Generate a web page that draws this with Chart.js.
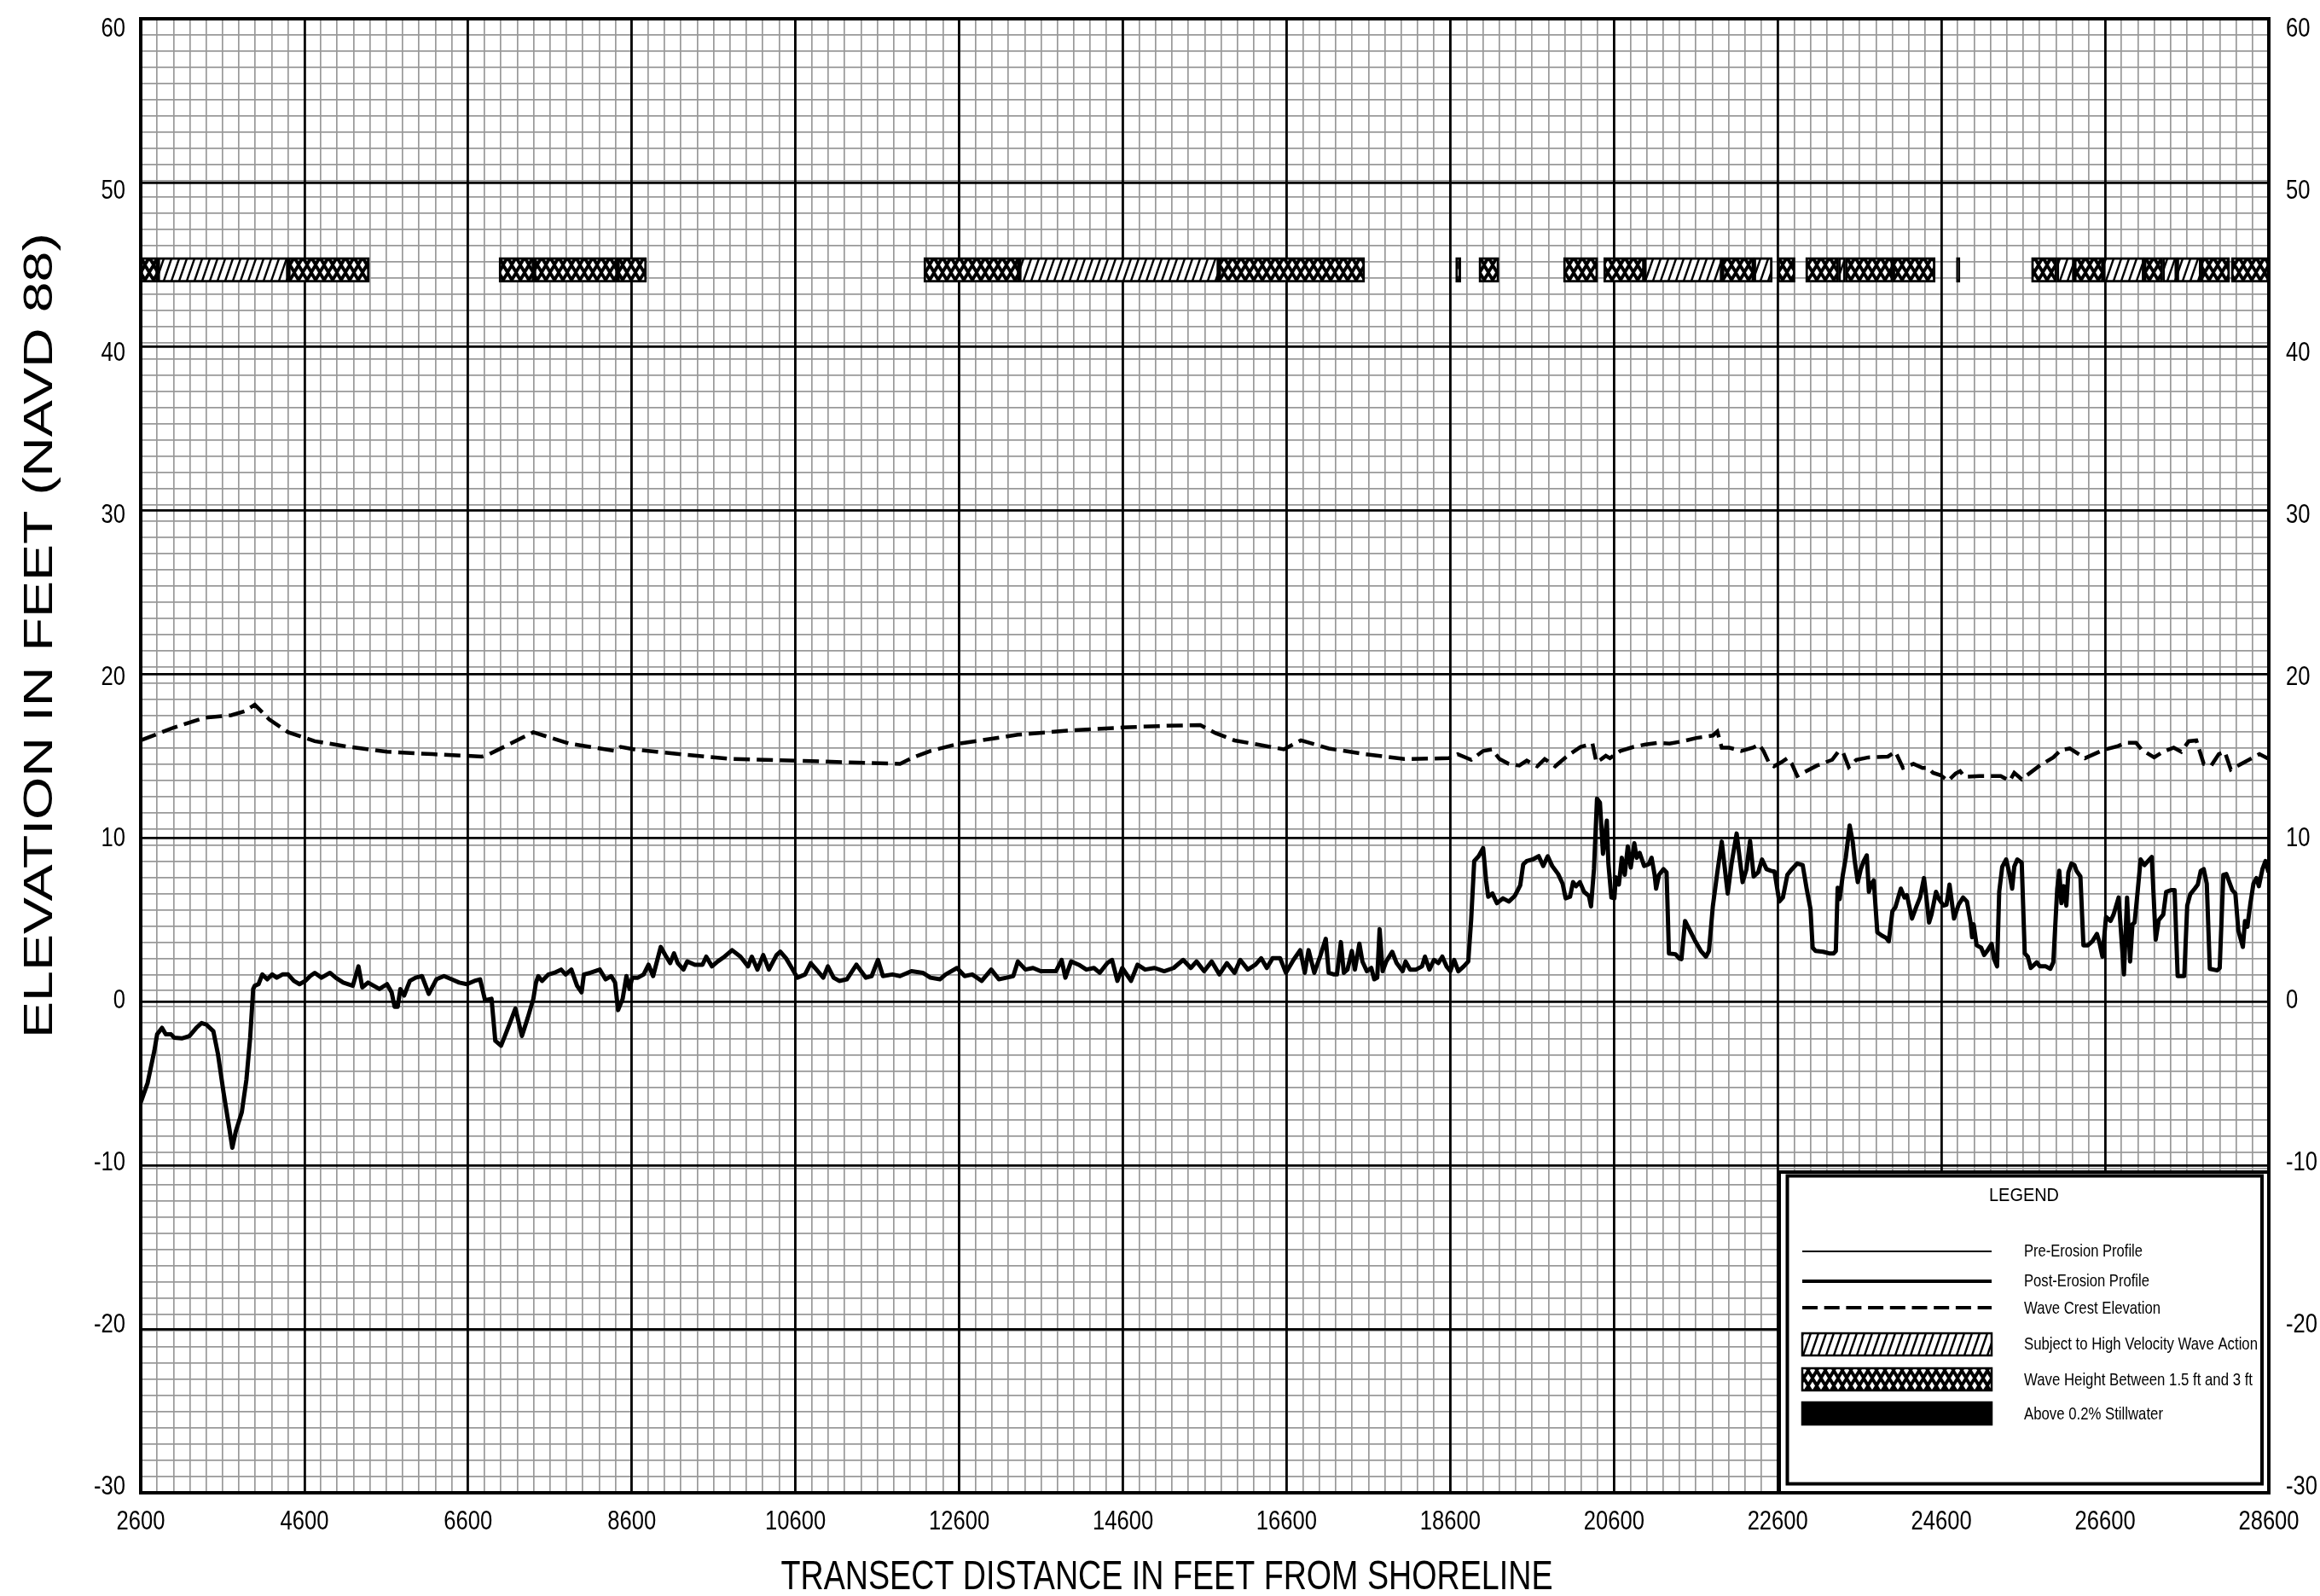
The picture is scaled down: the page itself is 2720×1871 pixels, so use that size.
<!DOCTYPE html>
<html>
<head>
<meta charset="utf-8">
<script src="https://cdn.jsdelivr.net/npm/chart.js@4.4.1/dist/chart.umd.min.js"></script>
<style>
  html, body { margin: 0; padding: 0; background: #fff; }
  #profile-chart { display: block; }
</style>
</head>
<body>
<canvas id="profile-chart" width="2720" height="1871"></canvas>
<script>
// ---- data ----
const postErosionX = [
  2600, 2684, 2767, 2800, 2860, 2906, 2971, 3009, 3101, 3194, 3278, 3343, 3403, 3487, 3543, 3612, 3682, 3719, 3761, 3835,
  3891, 3937, 3974, 3993, 4039, 4085, 4146, 4206, 4262, 4332, 4401, 4471, 4540, 4610, 4670, 4726, 4809, 4912, 4982, 5074,
  5191, 5260, 5307, 5377, 5446, 5516, 5609, 5665, 5702, 5739, 5772, 5818, 5888, 5958, 6036, 6119, 6212, 6305, 6398, 6491,
  6584, 6677, 6746, 6807, 6886, 6932, 7002, 7072, 7118, 7178, 7257, 7327, 7397, 7429, 7457, 7503, 7582, 7652, 7736, 7791,
  7861, 7931, 7986, 8014, 8093, 8209, 8279, 8348, 8395, 8432, 8488, 8534, 8572, 8604, 8674, 8744, 8804, 8860, 8953, 9008,
  9068, 9115, 9161, 9231, 9277, 9370, 9463, 9509, 9579, 9649, 9733, 9825, 9927, 10020, 10066, 10135, 10205, 10275, 10368, 10414,
  10484, 10554, 10623, 10716, 10786, 10855, 10939, 10995, 11065, 11134, 11227, 11344, 11460, 11530, 11607, 11668, 11784, 11877, 12016, 12155,
  12248, 12364, 12434, 12573, 12666, 12759, 12875, 12991, 13084, 13177, 13260, 13316, 13409, 13502, 13595, 13688, 13781, 13851, 13897, 13967,
  14060, 14153, 14246, 14316, 14409, 14467, 14532, 14592, 14699, 14778, 14871, 14987, 15104, 15220, 15336, 15429, 15499, 15592, 15685, 15778,
  15870, 15963, 16033, 16126, 16219, 16289, 16358, 16428, 16521, 16591, 16684, 16766, 16822, 16868, 16938, 17008, 17078, 17114, 17179, 17215,
  17263, 17299, 17343, 17397, 17434, 17489, 17526, 17580, 17634, 17671, 17707, 17736, 17773, 17817, 17890, 17944, 18017, 18053, 18108, 18181,
  18254, 18290, 18345, 18400, 18454, 18502, 18553, 18600, 18647, 18698, 18764, 18819, 18855, 18892, 18946, 19001, 19037, 19063, 19114, 19169,
  19243, 19315, 19388, 19454, 19491, 19534, 19607, 19680, 19735, 19790, 19844, 19917, 19972, 20009, 20063, 20100, 20136, 20183, 20234, 20293,
  20319, 20355, 20392, 20428, 20465, 20483, 20512, 20531, 20568, 20604, 20622, 20659, 20695, 20731, 20768, 20804, 20848, 20877, 20913, 20968,
  21023, 21059, 21096, 21114, 21150, 21205, 21242, 21271, 21351, 21395, 21424, 21468, 21513, 21588, 21661, 21723, 21760, 21807, 21862, 21916,
  21989, 22036, 22098, 22171, 22218, 22262, 22306, 22361, 22408, 22463, 22517, 22561, 22619, 22663, 22718, 22773, 22838, 22905, 22953, 23000,
  23027, 23063, 23155, 23229, 23284, 23310, 23332, 23357, 23394, 23431, 23479, 23516, 23541, 23578, 23615, 23651, 23688, 23714, 23743, 23773,
  23817, 23872, 23927, 23957, 24001, 24038, 24104, 24148, 24178, 24240, 24295, 24339, 24387, 24424, 24449, 24479, 24534, 24571, 24626, 24662,
  24699, 24754, 24809, 24865, 24912, 24957, 24975, 24993, 25030, 25085, 25122, 25159, 25214, 25243, 25280, 25306, 25343, 25391, 25434, 25464,
  25490, 25527, 25581, 25618, 25655, 25692, 25765, 25802, 25875, 25931, 25967, 26015, 26040, 26066, 26096, 26126, 26151, 26188, 26225, 26250,
  26298, 26335, 26390, 26445, 26500, 26530, 26567, 26611, 26666, 26703, 26765, 26830, 26868, 26905, 26934, 26960, 26997, 27034, 27081, 27125,
  27170, 27218, 27255, 27310, 27346, 27402, 27449, 27486, 27567, 27603, 27640, 27695, 27732, 27769, 27805, 27842, 27879, 27971, 28000, 28044,
  28081, 28154, 28191, 28228, 28283, 28309, 28338, 28375, 28412, 28449, 28478, 28522, 28559, 28596
];
const postErosionY = [
  -6.4, -5.2, -3.2, -2.2, -1.8, -2.2, -2.2, -2.4, -2.45, -2.3, -1.8, -1.5, -1.6, -2.0, -3.4, -5.8, -8.0, -9.2, -8.2, -7.0,
  -5.0, -2.4, 0.6, 0.8, 0.9, 1.5, 1.2, 1.5, 1.3, 1.5, 1.5, 1.1, 0.9, 1.1, 1.4, 1.6, 1.3, 1.6, 1.3, 1.0,
  0.8, 2.0, 0.7, 1.0, 0.8, 0.6, 0.9, 0.4, -0.5, -0.5, 0.6, 0.2, 1.1, 1.3, 1.4, 0.3, 1.2, 1.4, 1.2, 1.0,
  0.9, 1.1, 1.2, -0.1, 0.0, -2.6, -2.9, -2.0, -1.4, -0.6, -2.3, -1.2, 0.0, 1.0, 1.4, 1.1, 1.5, 1.6, 1.8, 1.5,
  1.8, 0.8, 0.4, 1.5, 1.6, 1.8, 1.2, 1.4, 1.0, -0.7, 0.0, 1.4, 0.6, 1.3, 1.3, 1.5, 2.1, 1.4, 3.2, 2.7,
  2.2, 2.8, 2.2, 1.8, 2.3, 2.1, 2.1, 2.6, 2.0, 2.3, 2.6, 3.0, 2.6, 2.0, 2.6, 1.8, 2.7, 1.8, 2.7, 2.9,
  2.5, 1.9, 1.3, 1.5, 2.2, 1.8, 1.3, 2.0, 1.3, 1.1, 1.2, 2.1, 1.3, 1.4, 2.4, 1.4, 1.5, 1.4, 1.7, 1.6,
  1.3, 1.2, 1.5, 1.9, 1.4, 1.5, 1.1, 1.8, 1.2, 1.3, 1.4, 2.3, 1.8, 1.9, 1.7, 1.7, 1.7, 2.4, 1.3, 2.3,
  2.1, 1.8, 1.9, 1.6, 2.2, 2.4, 1.1, 1.9, 1.1, 2.1, 1.8, 1.9, 1.7, 1.9, 2.4, 1.9, 2.3, 1.7, 2.3, 1.5,
  2.2, 1.6, 2.4, 1.8, 2.1, 2.5, 1.9, 2.5, 2.5, 1.6, 2.4, 3.0, 1.6, 3.0, 1.6, 2.6, 3.7, 1.6, 1.5, 1.5,
  3.5, 1.6, 1.8, 2.95, 1.8, 3.4, 2.3, 1.7, 1.9, 1.2, 1.3, 4.3, 1.7, 2.3, 2.9, 2.2, 1.7, 2.3, 1.8, 1.8,
  2.0, 2.6, 1.8, 2.4, 2.2, 2.6, 2.0, 1.7, 2.4, 1.7, 2.0, 2.3, 4.9, 8.5, 8.8, 9.3, 7.3, 6.3, 6.5, 5.9,
  6.2, 6.0, 6.35, 7.0, 8.3, 8.5, 8.6, 8.8, 8.2, 8.8, 8.2, 7.7, 7.1, 6.2, 6.3, 7.2, 6.95, 7.2, 6.6, 6.35,
  5.7, 8.0, 12.35, 12.1, 8.95, 9.7, 11.0, 8.35, 6.25, 6.2, 7.5, 7.05, 8.7, 7.65, 9.4, 8.1, 9.6, 8.7, 9.0, 8.2,
  8.3, 8.7, 7.65, 6.8, 7.65, 8.0, 7.8, 2.8, 2.75, 2.5, 2.45, 4.8, 4.35, 3.6, 2.95, 2.6, 2.95, 5.7, 7.8, 9.7,
  6.5, 8.35, 10.2, 7.2, 8.0, 9.75, 7.55, 7.8, 8.6, 8.0, 7.9, 7.85, 6.0, 6.25, 7.65, 8.0, 8.35, 8.25, 6.8, 5.55,
  3.15, 2.95, 2.9, 2.8, 2.8, 2.95, 6.85, 6.15, 7.6, 8.7, 10.7, 9.7, 8.5, 7.2, 8.0, 8.5, 8.85, 6.6, 7.1, 7.3,
  4.1, 3.9, 3.75, 3.55, 5.4, 5.65, 6.8, 6.25, 6.4, 4.95, 5.7, 6.25, 7.45, 5.9, 4.7, 5.2, 6.6, 6.15, 5.75, 5.8,
  7.05, 4.95, 5.8, 6.25, 6.0, 4.7, 3.8, 4.6, 3.3, 3.15, 2.7, 2.95, 3.4, 2.45, 2.0, 6.6, 8.15, 8.6, 7.65, 6.8,
  8.15, 8.6, 8.4, 2.8, 2.6, 1.9, 2.25, 2.0, 2.0, 1.85, 2.25, 6.8, 7.9, 5.9, 6.95, 5.75, 7.8, 8.35, 8.25, 7.9,
  7.55, 3.3, 3.3, 3.55, 4.0, 3.5, 2.6, 5.05, 4.8, 5.2, 6.25, 1.5, 6.25, 2.3, 4.6, 4.7, 6.6, 8.6, 8.25, 8.5,
  8.75, 3.65, 4.85, 5.2, 6.6, 6.7, 6.7, 1.4, 1.4, 5.75, 6.45, 6.8, 7.05, 7.9, 8.0, 7.1, 1.85, 1.75, 1.9, 7.65,
  7.7, 6.7, 6.5, 4.2, 3.2, 4.8, 4.45, 5.9, 7.1, 7.45, 6.95, 8.0, 8.5, 7.8
];

const waveCrestX = [
  2600, 3009, 3380, 3705, 3868, 3993, 4169, 4401, 4726, 5144, 5609, 6166, 6769, 6839, 7396, 7837, 8395, 8464, 8627, 9277,
  9825, 10600, 11227, 11877, 12016, 12248, 12600, 13316, 13920, 14600, 15127, 15545, 15731, 15963, 16566, 16775, 17114, 17561, 18035, 18582,
  18691, 18855, 19001, 19110, 19201, 19315, 19443, 19534, 19662, 19753, 19881, 20045, 20191, 20337, 20384, 20446, 20500, 20550, 20677, 20841,
  20987, 21132, 21278, 21442, 21606, 21807, 21862, 21916, 22007, 22153, 22298, 22371, 22426, 22499, 22554, 22645, 22718, 22773, 22838, 23081,
  23265, 23339, 23394, 23468, 23560, 23707, 23946, 24038, 24130, 24258, 24368, 24442, 24497, 24589, 24681, 24773, 24828, 24883, 25067, 25324,
  25434, 25490, 25581, 25802, 25967, 26059, 26169, 26353, 26574, 26758, 26850, 26905, 26978, 27052, 27199, 27310, 27438, 27530, 27622, 27714,
  27805, 27897, 27989, 28062, 28136, 28264, 28412, 28485, 28600
];
const waveCrestY = [
  15.95, 16.75, 17.35, 17.5, 17.75, 18.15, 17.25, 16.45, 15.9, 15.55, 15.25, 15.1, 14.95, 15.05, 16.45, 15.75, 15.3, 15.55, 15.4, 15.05,
  14.8, 14.7, 14.6, 14.5, 14.85, 15.3, 15.75, 16.3, 16.55, 16.75, 16.85, 16.9, 16.4, 15.95, 15.4, 15.95, 15.45, 15.1, 14.8, 14.85,
  15.1, 14.75, 15.3, 15.4, 14.8, 14.5, 14.4, 14.7, 14.35, 14.8, 14.35, 15.05, 15.55, 15.75, 14.6, 14.8, 15.0, 14.85, 15.3, 15.55,
  15.7, 15.8, 15.75, 15.9, 16.1, 16.25, 16.5, 15.5, 15.5, 15.3, 15.5, 15.7, 15.3, 14.5, 14.35, 14.6, 14.85, 14.5, 13.75, 14.4,
  14.75, 15.25, 15.25, 14.3, 14.75, 14.9, 14.95, 15.25, 14.25, 14.5, 14.25, 14.25, 13.95, 13.8, 13.45, 13.9, 14.05, 13.7, 13.75, 13.75,
  13.45, 13.95, 13.55, 14.4, 14.9, 15.35, 15.45, 14.85, 15.35, 15.6, 15.8, 15.8, 15.8, 15.35, 14.9, 15.25, 15.5, 15.25, 15.9, 15.95,
  14.5, 14.4, 15.1, 15.25, 14.15, 14.5, 14.9, 15.1, 14.8
];

// flood zone bands drawn along elevation 45
const zoneStart = [2600, 2808, 4403, 6977, 7404, 8425, 12167, 13333, 15772, 18665, 18949, 19982, 20473, 20971, 21920, 22308,
  22599, 22941, 23342, 23426, 24007, 24782, 25700, 26010, 26223, 26578, 27076, 27302, 27476, 27773, 28141];
const zoneEnd = [2808, 4403, 5393, 7404, 8425, 8780, 13333, 15772, 17554, 18729, 19194, 20402, 20971, 21920, 22308, 22534,
  22812, 23342, 23426, 24007, 24524, 24827, 26010, 26223, 26578, 27076, 27302, 27476, 27773, 28122, 28600];
const zoneType = ['wave', 'velocity', 'wave', 'wave', 'wave', 'wave', 'wave', 'velocity', 'wave', 'wave', 'wave', 'wave', 'wave', 'velocity', 'wave', 'velocity',
  'wave', 'wave', 'velocity', 'wave', 'wave', 'still', 'wave', 'velocity', 'wave', 'velocity', 'wave', 'velocity', 'velocity', 'wave', 'wave'];
const zoneElevation = 45;

const xTickLabels = [2600, 4600, 6600, 8600, 10600, 12600, 14600, 16600, 18600, 20600, 22600, 24600, 26600, 28600];
const yTickLabels = [-30, -20, -10, 0, 10, 20, 30, 40, 50, 60];

const legendItems = ['Pre-Erosion Profile', 'Post-Erosion Profile', 'Wave Crest Elevation',
  'Subject to High Velocity Wave Action', 'Wave Height Between 1.5 ft and 3 ft', 'Above 0.2% Stillwater'];

const FONT = '"Liberation Sans", Arial, sans-serif';
const NARROW = 0.8;   // the drawing uses a narrow face, so glyphs get squeezed

const canvas = document.getElementById('profile-chart');
const mainCtx = canvas.getContext('2d');

// fill patterns for the zone bands
function makeHatch() {
  const w = 9, h = 26;
  const tile = document.createElement('canvas');
  tile.width = w; tile.height = h;
  const g = tile.getContext('2d');
  g.fillStyle = '#fff';
  g.fillRect(0, 0, w, h);
  g.strokeStyle = '#000';
  g.lineWidth = 2.4;
  g.beginPath();
  for (let k = -1; k <= 1; k++) {
    g.moveTo(k * w - w, 2 * h);
    g.lineTo(k * w + 2 * w, -h);
  }
  g.stroke();
  return mainCtx.createPattern(tile, 'repeat');
}

function makeCross() {
  const w = 10, h = 18;
  const tile = document.createElement('canvas');
  tile.width = w; tile.height = h;
  const g = tile.getContext('2d');
  g.fillStyle = '#000';
  g.fillRect(0, 0, w, h);
  g.fillStyle = '#fff';
  const diamond = (cx, cy) => {
    g.beginPath();
    g.moveTo(cx, cy - 4.8);
    g.lineTo(cx + 3.0, cy);
    g.lineTo(cx, cy + 4.8);
    g.lineTo(cx - 3.0, cy);
    g.closePath();
    g.fill();
  };
  diamond(5, 4.5);
  diamond(0, 13.5);
  diamond(10, 13.5);
  diamond(5, 22.5);
  diamond(0, -4.5);
  diamond(10, -4.5);
  return mainCtx.createPattern(tile, 'repeat');
}

const zoneFill = { velocity: makeHatch(), wave: makeCross(), still: '#000' };

// text squeezed/stretched to a given width
function fitText(ctx, text, x, y, width, size, align, rotate) {
  ctx.save();
  ctx.font = size + 'px ' + FONT;
  const w = ctx.measureText(text).width;
  ctx.translate(x, y);
  if (rotate) ctx.rotate(-Math.PI / 2);
  ctx.scale(width / w, 1);
  ctx.textAlign = align;
  ctx.textBaseline = 'alphabetic';
  ctx.fillStyle = '#000';
  ctx.fillText(text, 0, 0);
  ctx.restore();
}

function narrowText(ctx, text, x, y, size, align) {
  ctx.save();
  ctx.font = size + 'px ' + FONT;
  ctx.translate(x, y);
  ctx.scale(NARROW, 1);
  ctx.textAlign = align;
  ctx.textBaseline = 'alphabetic';
  ctx.fillStyle = '#000';
  ctx.fillText(text, 0, 0);
  ctx.restore();
}

// tick labels placed through the chart's own scales
const axisLabelsPlugin = {
  id: 'axisLabels',
  afterDraw(chart) {
    const ctx = chart.ctx;
    const area = chart.chartArea;
    const xs = chart.scales.x, ys = chart.scales.y;
    xTickLabels.forEach(v => narrowText(ctx, String(v), xs.getPixelForValue(v), area.bottom + 43, 32, 'center'));
    yTickLabels.forEach(v => {
      const py = ys.getPixelForValue(v) + 11.5;
      narrowText(ctx, String(v), area.left - 18, py, 32, 'right');
      narrowText(ctx, String(v), area.right + 20, py, 32, 'left');
    });
    fitText(ctx, 'TRANSECT DISTANCE IN FEET FROM SHORELINE', 1368, 1863, 905, 48, 'center');
    fitText(ctx, 'ELEVATION IN FEET (NAVD 88)', 61, 745, 944, 48, 'center', true);
  }
};

const legendPlugin = {
  id: 'legendBox',
  afterDraw(chart) {
    const ctx = chart.ctx;
    ctx.save();
    ctx.fillStyle = '#fff';
    ctx.fillRect(2086, 1373, 574, 377);
    ctx.strokeStyle = '#000';
    ctx.lineWidth = 4;
    ctx.strokeRect(2086, 1374, 574, 376);
    ctx.strokeRect(2095.5, 1378.5, 556.5, 361);

    fitText(ctx, 'LEGEND', 2373, 1408, 82, 22, 'center');

    const x0 = 2113, x1 = 2335;
    ctx.lineCap = 'butt';
    // line samples
    ctx.lineWidth = 2;
    ctx.beginPath(); ctx.moveTo(x0, 1467); ctx.lineTo(x1, 1467); ctx.stroke();
    ctx.lineWidth = 4;
    ctx.beginPath(); ctx.moveTo(x0, 1502); ctx.lineTo(x1, 1502); ctx.stroke();
    ctx.setLineDash([18, 7.7]);
    ctx.beginPath(); ctx.moveTo(x0, 1533); ctx.lineTo(x1, 1533); ctx.stroke();
    ctx.setLineDash([]);

    // swatches
    const swatches = [[zoneFill.velocity, 1563], [zoneFill.wave, 1604], ['#000', 1644]];
    ctx.lineWidth = 2.5;
    swatches.forEach(([fill, top]) => {
      ctx.fillStyle = fill;
      ctx.fillRect(x0, top, x1 - x0, 26);
      ctx.strokeRect(x0, top, x1 - x0, 26);
    });

    const widths = [139, 147, 160, 274, 268, 163];
    const baselines = [1473, 1508, 1540, 1582, 1624, 1664];
    legendItems.forEach((t, i) => fitText(ctx, t, 2373, baselines[i], widths[i], 21, 'left'));
    ctx.restore();
  }
};

const profileChart = new Chart(canvas, {
  type: 'line',
  data: {
    datasets: [
      {
        label: 'Post-Erosion Profile',
        data: postErosionX.map((x, i) => ({ x: x, y: postErosionY[i] })),
        xAxisID: 'x', yAxisID: 'y',
        borderColor: '#000',
        borderWidth: 5,
        pointRadius: 0,
        tension: 0,
        borderJoinStyle: 'round'
      },
      {
        label: 'Wave Crest Elevation',
        data: waveCrestX.map((x, i) => ({ x: x, y: waveCrestY[i] })),
        xAxisID: 'x', yAxisID: 'y',
        borderColor: '#000',
        borderWidth: 4.5,
        borderDash: [19, 8],
        pointRadius: 0,
        tension: 0
      },
      {
        type: 'bar',
        label: 'Zones',
        indexAxis: 'y',
        xAxisID: 'x', yAxisID: 'y',
        data: zoneStart.map((s, i) => ({ x: [s, zoneEnd[i]], y: zoneElevation })),
        backgroundColor: zoneType.map(t => zoneFill[t]),
        borderColor: '#000',
        borderWidth: 3,
        borderSkipped: false,
        barThickness: 29,
        grouped: false
      }
    ]
  },
  options: {
    responsive: false,
    animation: false,
    events: [],
    layout: { padding: { top: 22, left: 0, right: 0, bottom: 0 } },
    plugins: {
      legend: { display: false },
      tooltip: { enabled: false }
    },
    scales: {
      x: {
        type: 'linear',
        position: 'bottom',
        min: 2600, max: 28600,
        ticks: { stepSize: 200, display: false },
        grid: { color: '#999', lineWidth: 1.7, drawTicks: false },
        border: { display: true, color: '#000', width: 4 },
        afterFit: s => { s.height = 121; }
      },
      xMajor: {
        type: 'linear',
        position: 'top',
        min: 2600, max: 28600,
        ticks: { stepSize: 2000, display: false },
        grid: { color: '#000', lineWidth: 2.8, drawTicks: false, z: -0.5 },
        border: { display: true, color: '#000', width: 4 },
        afterFit: s => { s.height = 0; }
      },
      y: {
        type: 'linear',
        position: 'left',
        min: -30, max: 60,
        ticks: { stepSize: 1, display: false },
        grid: { color: '#999', lineWidth: 1.7, drawTicks: false },
        border: { display: true, color: '#000', width: 4 },
        afterFit: s => { s.width = 165; }
      },
      yMajor: {
        type: 'linear',
        position: 'right',
        min: -30, max: 60,
        ticks: { stepSize: 10, display: false },
        grid: { color: '#000', lineWidth: 2.8, drawTicks: false, z: -0.5 },
        border: { display: true, color: '#000', width: 4 },
        afterFit: s => { s.width = 60; }
      }
    }
  },
  plugins: [axisLabelsPlugin, legendPlugin]
});
</script>
</body>
</html>
